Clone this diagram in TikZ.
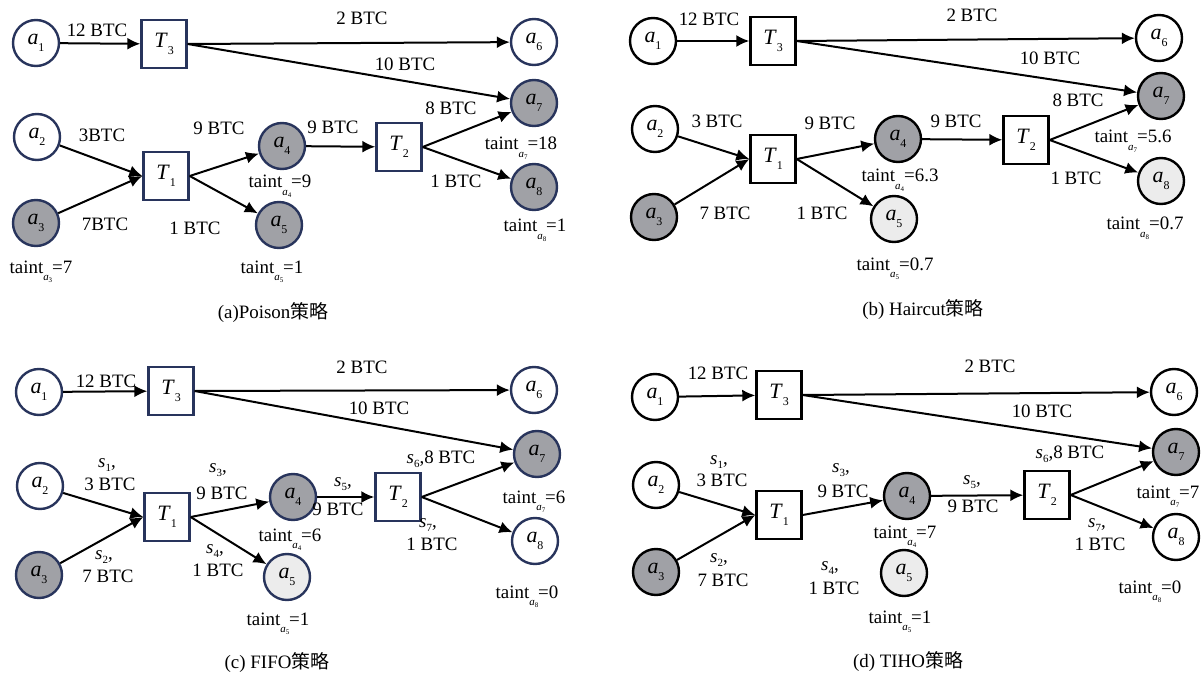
\documentclass[tikz,border=0pt]{standalone}
\usepackage{fontspec}
\setmainfont{Liberation Serif}
\newfontfamily\cjk{Noto Sans CJK SC}
\usetikzlibrary{arrows.meta}
\definecolor{navy}{RGB}{40,52,92}
\definecolor{dkgrey}{RGB}{160,161,166}
\definecolor{ltgrey}{RGB}{236,236,236}
\newcommand{\nd}[2]{\textit{#1}\raisebox{-0.3em}{\fontsize{12}{12}\selectfont #2}}
\newcommand{\tnt}[2]{taint\raisebox{-0.4em}{\fontsize{11}{11}\selectfont\textit{a}\raisebox{-0.2em}{\fontsize{7}{7}\selectfont #1}}=#2}
\newcommand{\sv}[1]{\textit{s}\raisebox{-0.25em}{\fontsize{11}{11}\selectfont #1},}
\tikzset{
  nbase/.style={inner sep=0pt, font=\fontsize{22}{22}\selectfont},
  acc/.style={nbase, circle, minimum size=46bp, line width=2.4bp},
  trx/.style={nbase, rectangle, minimum width=45bp, minimum height=48bp, line width=2.4bp, fill=white},
  wht/.style={fill=white}, dk/.style={fill=dkgrey}, lt/.style={fill=ltgrey},
  nv/.style={draw=navy}, bk/.style={draw=black},
  arr/.style={-{Latex[length=13bp,width=12bp]}, line width=2bp, black},
  lbl/.style={font=\fontsize{19}{19}\selectfont, inner sep=0pt, anchor=base},
  captxt/.style={lbl}
}
\begin{document}
\begin{tikzpicture}[x=1bp,y=-1bp]
\useasboundingbox (0,0) rectangle (1202,678);
% ---------------- (a) Poison
\node[acc,nv,wht] (Aa1) at (36,43) {\nd{a}{1}};
\node[trx,nv] (AT3) at (164,44) {\nd{T}{3}};
\node[acc,nv,wht] (Aa6) at (534,42) {\nd{a}{6}};
\node[acc,nv,dk] (Aa7) at (534,103) {\nd{a}{7}};
\node[acc,nv,wht] (Aa2) at (37,137) {\nd{a}{2}};
\node[acc,nv,dk] (Aa3) at (36,223) {\nd{a}{3}};
\node[trx,nv] (AT1) at (166,176) {\nd{T}{1}};
\node[acc,nv,dk] (Aa4) at (282,146) {\nd{a}{4}};
\node[acc,nv,dk] (Aa5) at (279,225) {\nd{a}{5}};
\node[trx,nv] (AT2) at (399,147) {\nd{T}{2}};
\node[acc,nv,dk] (Aa8) at (534,187) {\nd{a}{8}};
\draw[arr] (Aa1) -- (AT3);
\draw[arr] (AT3.east) -- (Aa6);
\draw[arr] (AT3.east) -- (Aa7);
\draw[arr] (Aa2) -- (AT1.west);
\draw[arr] (Aa3) -- (AT1.west);
\draw[arr] (AT1.east) -- (Aa4);
\draw[arr] (AT1.east) -- (Aa5);
\draw[arr] (Aa4) -- (AT2);
\draw[arr] (AT2.east) -- (Aa7);
\draw[arr] (AT2.east) -- (Aa8);
\node[lbl] (AL1) at (97,37) {12 BTC};
\node[lbl] (AL2) at (362,25) {2 BTC};
\node[lbl] (AL3) at (405,71) {10 BTC};
\node[lbl] (AL4) at (451,115) {8 BTC};
\node[lbl] (AL5) at (333,134) {9 BTC};
\node[lbl] (AL6) at (521,150) {\tnt{7}{18}};
\node[lbl] (AL7) at (102,142) {3BTC};
\node[lbl] (AL8) at (219,135) {9 BTC};
\node[lbl] (AL9) at (105,231) {7BTC};
\node[lbl] (AL10) at (195,235) {1 BTC};
\node[lbl] (AL11) at (41,273) {\tnt{3}{7}};
\node[lbl] (AL12) at (272,273) {\tnt{5}{1}};
\node[lbl] (AL13) at (280,188) {\tnt{4}{9}};
\node[lbl] (AL14) at (456,188) {1 BTC};
\node[lbl] (AL15) at (535,232) {\tnt{8}{1}};
\node[captxt] (Acap) at (273,318) {(a)Poison{\cjk 策略}};
% ---------------- (b) Haircut
\node[acc,bk,wht] (Ba1) at (653,41) {\nd{a}{1}};
\node[trx,bk] (BT3) at (773,41) {\nd{T}{3}};
\node[acc,bk,wht] (Ba6) at (1159,38) {\nd{a}{6}};
\node[acc,bk,dk] (Ba7) at (1161,96) {\nd{a}{7}};
\node[acc,bk,wht] (Ba2) at (655,129) {\nd{a}{2}};
\node[acc,bk,dk] (Ba3) at (654,217) {\nd{a}{3}};
\node[trx,bk] (BT1) at (773,159) {\nd{T}{1}};
\node[acc,bk,dk] (Ba4) at (898,139) {\nd{a}{4}};
\node[acc,bk,lt] (Ba5) at (894,219) {\nd{a}{5}};
\node[trx,bk] (BT2) at (1026,140) {\nd{T}{2}};
\node[acc,bk,lt] (Ba8) at (1161,181) {\nd{a}{8}};
\draw[arr] (Ba1) -- (BT3);
\draw[arr] (BT3.east) -- (Ba6);
\draw[arr] (BT3.east) -- (Ba7);
\draw[arr] (Ba2) -- (BT1.west);
\draw[arr] (Ba3) -- (BT1.west);
\draw[arr] (BT1.east) -- (Ba4);
\draw[arr] (BT1.east) -- (Ba5);
\draw[arr] (Ba4) -- (BT2);
\draw[arr] (BT2.east) -- (Ba7);
\draw[arr] (BT2.east) -- (Ba8);
\node[lbl] (BL1) at (709,26) {12 BTC};
\node[lbl] (BL2) at (972,22) {2 BTC};
\node[lbl] (BL3) at (1050,65) {10 BTC};
\node[lbl] (BL4) at (1078,107) {8 BTC};
\node[lbl] (BL5) at (956,128) {9 BTC};
\node[lbl] (BL6) at (1133,143) {\tnt{7}{5.6}};
\node[lbl] (BL7) at (717,128) {3 BTC};
\node[lbl] (BL8) at (830,130) {9 BTC};
\node[lbl] (BL9) at (900,182) {\tnt{4}{6.3}};
\node[lbl] (BL10) at (725,220) {7 BTC};
\node[lbl] (BL11) at (822,220) {1 BTC};
\node[lbl] (BL12) at (895,270) {\tnt{5}{0.7}};
\node[lbl] (BL13) at (1076,185) {1 BTC};
\node[lbl] (BL14) at (1145,230) {\tnt{8}{0.7}};
\node[captxt] (Bcap) at (923,315) {(b) Haircut{\cjk 策略}};
% ---------------- (c) FIFO
\node[acc,nv,wht] (Ca1) at (39,392) {\nd{a}{1}};
\node[trx,nv] (CT3) at (171,391) {\nd{T}{3}};
\node[acc,nv,wht] (Ca6) at (534,390) {\nd{a}{6}};
\node[acc,nv,dk] (Ca7) at (537,454) {\nd{a}{7}};
\node[acc,nv,wht] (Ca2) at (40,486) {\nd{a}{2}};
\node[acc,nv,dk] (Ca3) at (39,575) {\nd{a}{3}};
\node[trx,nv] (CT1) at (167,517) {\nd{T}{1}};
\node[acc,nv,dk] (Ca4) at (293,497) {\nd{a}{4}};
\node[acc,nv,lt] (Ca5) at (287,577) {\nd{a}{5}};
\node[trx,nv] (CT2) at (398,497) {\nd{T}{2}};
\node[acc,nv,wht] (Ca8) at (535,541) {\nd{a}{8}};
\draw[arr] (Ca1) -- (CT3);
\draw[arr] (CT3.east) -- (Ca6);
\draw[arr] (CT3.east) -- (Ca7);
\draw[arr] (Ca2) -- (CT1.west);
\draw[arr] (Ca3) -- (CT1.west);
\draw[arr] (CT1.east) -- (Ca4);
\draw[arr] (CT1.east) -- (Ca5);
\draw[arr] (Ca4) -- (CT2);
\draw[arr] (CT2.east) -- (Ca7);
\draw[arr] (CT2.east) -- (Ca8);
\node[lbl] (CL1) at (106,387) {12 BTC};
\node[lbl] (CL2) at (362,373) {2 BTC};
\node[lbl] (CL3) at (379,414) {10 BTC};
\node[lbl] (CL4) at (441,463) {\sv{6}8 BTC};
\node[lbl] (CL5) at (343,486) {\sv{5}};
\node[lbl] (CL6) at (338,515) {9 BTC};
\node[lbl] (CL7) at (534,503) {\tnt{7}{6}};
\node[lbl] (CL8) at (107,467) {\sv{1}};
\node[lbl] (CL9) at (110,490) {3 BTC};
\node[lbl] (CL10) at (218,472) {\sv{3}};
\node[lbl] (CL11) at (222,499) {9 BTC};
\node[lbl] (CL12) at (104,559) {\sv{2}};
\node[lbl] (CL13) at (108,582) {7 BTC};
\node[lbl] (CL14) at (215,553) {\sv{4}};
\node[lbl] (CL15) at (218,576) {1 BTC};
\node[lbl] (CL16) at (290,541) {\tnt{4}{6}};
\node[lbl] (CL17) at (428,527) {\sv{7}};
\node[lbl] (CL18) at (432,550) {1 BTC};
\node[lbl] (CL19) at (527,598) {\tnt{8}{0}};
\node[lbl] (CL20) at (278,625) {\tnt{5}{1}};
\node[captxt] (Ccap) at (277,668) {(c) FIFO{\cjk 策略}};
% ---------------- (d) TIHO
\node[acc,bk,wht] (Da1) at (655,397) {\nd{a}{1}};
\node[trx,bk] (DT3) at (779,395) {\nd{T}{3}};
\node[acc,bk,wht] (Da6) at (1174,392) {\nd{a}{6}};
\node[acc,bk,dk] (Da7) at (1176,452) {\nd{a}{7}};
\node[acc,bk,wht] (Da2) at (656,485) {\nd{a}{2}};
\node[acc,bk,dk] (Da3) at (656,572) {\nd{a}{3}};
\node[trx,bk] (DT1) at (779,515) {\nd{T}{1}};
\node[acc,bk,dk] (Da4) at (907,496) {\nd{a}{4}};
\node[acc,bk,lt] (Da5) at (904,573) {\nd{a}{5}};
\node[trx,bk] (DT2) at (1047,495) {\nd{T}{2}};
\node[acc,bk,wht] (Da8) at (1176,537) {\nd{a}{8}};
\draw[arr] (Da1) -- (DT3);
\draw[arr] (DT3.east) -- (Da6);
\draw[arr] (DT3.east) -- (Da7);
\draw[arr] (Da2) -- (DT1.west);
\draw[arr] (Da3) -- (DT1.west);
\draw[arr] (DT1.east) -- (Da4);
\draw[arr] (Da4) -- (DT2);
\draw[arr] (DT2.east) -- (Da7);
\draw[arr] (DT2.east) -- (Da8);
\node[lbl] (DL1) at (718,379) {12 BTC};
\node[lbl] (DL2) at (990,372) {2 BTC};
\node[lbl] (DL3) at (1042,417) {10 BTC};
\node[lbl] (DL4) at (1070,458) {\sv{6}8 BTC};
\node[lbl] (DL5) at (972,484) {\sv{5}};
\node[lbl] (DL6) at (973,512) {9 BTC};
\node[lbl] (DL7) at (1168,498) {\tnt{7}{7}};
\node[lbl] (DL8) at (1097,527) {\sv{7}};
\node[lbl] (DL9) at (1100,550) {1 BTC};
\node[lbl] (DL10) at (1150,593) {\tnt{8}{0}};
\node[lbl] (DL11) at (905,538) {\tnt{4}{7}};
\node[lbl] (DL12) at (900,623) {\tnt{5}{1}};
\node[lbl] (DL13) at (719,464) {\sv{1}};
\node[lbl] (DL14) at (722,486) {3 BTC};
\node[lbl] (DL15) at (841,472) {\sv{3}};
\node[lbl] (DL16) at (843,497) {9 BTC};
\node[lbl] (DL17) at (719,562) {\sv{2}};
\node[lbl] (DL18) at (723,586) {7 BTC};
\node[lbl] (DL19) at (830,570) {\sv{4}};
\node[lbl] (DL20) at (834,594) {1 BTC};
\node[captxt] (Dcap) at (908,667) {(d) TIHO{\cjk 策略}};
\end{tikzpicture}
\end{document}
